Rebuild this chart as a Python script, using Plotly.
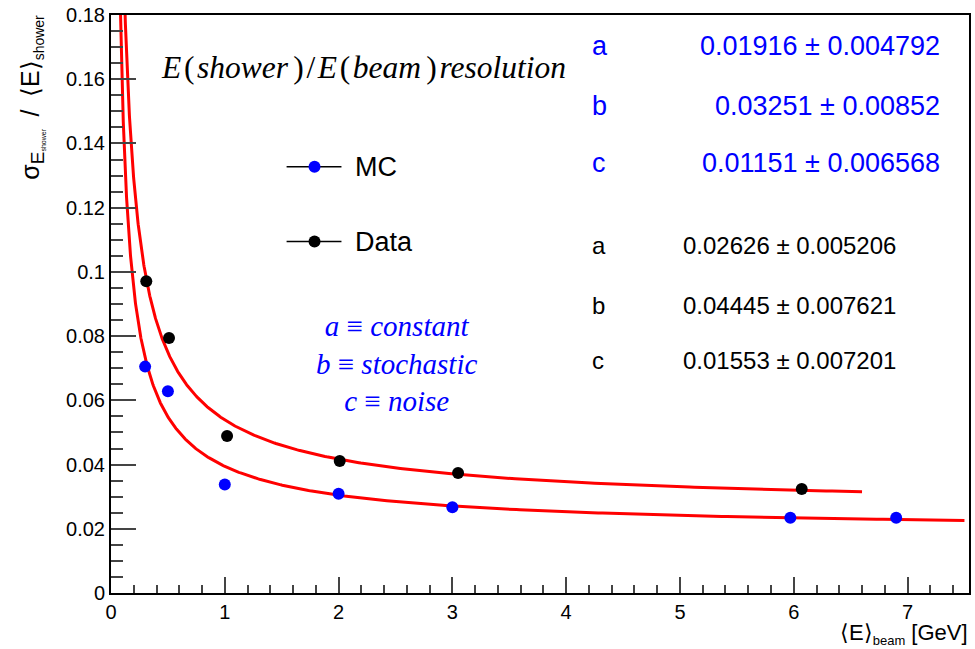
import numpy as np
import plotly.graph_objects as go

# ---- data ----
mc_energy = [0.3, 0.5, 1.0, 2.0, 3.0, 5.97, 6.9]
mc_resolution = [0.0705, 0.0628, 0.0338, 0.0309, 0.0267, 0.0234, 0.0234]
data_energy = [0.31, 0.51, 1.02, 2.01, 3.05, 6.07]
data_resolution = [0.0971, 0.0794, 0.0489, 0.0411, 0.0374, 0.0324]

# fit parameters (a = constant, b = stochastic, c = noise)
mc_fit = {"a": 0.01916, "b": 0.03251, "c": 0.01151}
mc_fit_err = {"a": 0.004792, "b": 0.00852, "c": 0.006568}
data_fit = {"a": 0.02626, "b": 0.04445, "c": 0.01553}
data_fit_err = {"a": 0.005206, "b": 0.007621, "c": 0.007201}
mc_fit_range = [0.05, 7.5]
data_fit_range = [0.05, 6.6]

series_names = ["MC", "Data"]
series_colors = ["#0000ff", "#000000"]

x_ticks = [0, 1, 2, 3, 4, 5, 6, 7]
y_ticks = [0, 0.02, 0.04, 0.06, 0.08, 0.1, 0.12, 0.14, 0.16, 0.18]


def resolution(E, p):
    return np.sqrt(p["a"] ** 2 + p["b"] ** 2 / E + p["c"] ** 2 / E ** 2)


FONT = "Liberation Sans, Arial, sans-serif"
SERIF = "Liberation Serif, Times New Roman, serif"

fig = go.Figure()

for rng, p in [(mc_fit_range, mc_fit), (data_fit_range, data_fit)]:
    E = np.geomspace(rng[0], rng[1], 600)
    fig.add_trace(go.Scatter(x=E, y=resolution(E, p), mode="lines",
                             line=dict(color="#ff0000", width=3),
                             showlegend=False, hoverinfo="skip"))

fig.add_trace(go.Scatter(x=mc_energy, y=mc_resolution, mode="markers",
                         name=series_names[0],
                         marker=dict(color=series_colors[0], size=12),
                         showlegend=False))
fig.add_trace(go.Scatter(x=data_energy, y=data_resolution, mode="markers",
                         name=series_names[1],
                         marker=dict(color=series_colors[1], size=12),
                         showlegend=False))

W, H = 975, 649
L, R, T, B = 111, 4, 14, 56
pw, ph = W - L - R, H - T - B


def px2paper(xp, yp):
    """convert page pixel position to paper coordinates"""
    return (xp - L) / pw, (H - B - yp) / ph


annotations = []
shapes = []

HS = "\u200a"
tx, ty = px2paper(159, 67)
annotations.append(dict(
    text=f"<i>E</i>{HS}({HS}<i>shower</i>{HS}{HS}){HS}/{HS}<i>E</i>{HS}({HS}<i>beam</i>{HS}{HS}){HS}<i>resolution</i>",
    x=tx, y=ty, xref="paper", yref="paper", xanchor="left", yanchor="middle",
    showarrow=False, font=dict(family=SERIF, size=31.5, color="#000000")))


def params(p, perr, color, size, ys, xlab, xval):
    out = []
    for key, yy in zip(["a", "b", "c"], ys):
        lx, ly = px2paper(xlab, yy)
        vx, _ = px2paper(xval, yy)
        out.append(dict(text=key, x=lx, y=ly, xref="paper", yref="paper",
                        xanchor="left", yanchor="middle", showarrow=False,
                        font=dict(color=color, size=size, family=FONT)))
        out.append(dict(text=f"{p[key]} \u00b1 {perr[key]}", x=vx, y=ly,
                        xref="paper", yref="paper", xanchor="right",
                        yanchor="middle", showarrow=False,
                        font=dict(color=color, size=size, family=FONT)))
    return out


annotations += params(mc_fit, mc_fit_err, "#0000ff", 27, [45, 105, 162], 591, 944)
annotations += params(data_fit, data_fit_err, "#000000", 24, [245, 305, 360], 591, 900)

dx, dy = px2paper(397, 363)
annotations.append(dict(
    text="<i>a</i> \u2261 <i>constant</i><br><i>b</i> \u2261 <i>stochastic</i><br><i>c</i> \u2261 <i>noise</i>",
    x=dx, y=dy, xref="paper", yref="paper", xanchor="center", yanchor="middle",
    showarrow=False, align="center",
    font=dict(family=SERIF, size=29, color="#0000ff")))

# legend (box-less ROOT style legend)
for name, color, ly in zip(series_names, series_colors, [166, 241]):
    x0, yl = px2paper(287, ly)
    x1, _ = px2paper(342, ly)
    xm, _ = px2paper(315, ly)
    shapes.append(dict(type="line", xref="paper", yref="paper", x0=x0, x1=x1,
                       y0=yl, y1=yl, line=dict(color="#000000", width=1.5)))
    shapes.append(dict(type="circle", xref="paper", yref="paper",
                       xsizemode="pixel", ysizemode="pixel", xanchor=xm, yanchor=yl,
                       x0=-6, x1=6, y0=-6, y1=6,
                       fillcolor=color, line=dict(color=color, width=0)))
    txx, _ = px2paper(354, ly)
    annotations.append(dict(text=name, x=txx, y=yl, xref="paper", yref="paper",
                            xanchor="left", yanchor="middle", showarrow=False,
                            font=dict(family=FONT, size=27, color="#000000")))

# axis titles
xx, xy = px2paper(972, 634)
annotations.append(dict(
    text="\u27e8E\u27e9<sub><span style='font-size:13px'>beam</span></sub> [GeV]",
    x=xx, y=xy, xref="paper", yref="paper",
    xanchor="right", yanchor="middle", showarrow=False,
    font=dict(family=FONT, size=22, color="#000000")))
yx, yy = px2paper(31, 12)
annotations.append(dict(
    text=("\u03c3<sub><span style='font-size:19px'>E</span>"
          "<span style='font-size:10px'><sub>shower</sub></span></sub>"
          "\u2002/\u2002\u27e8E\u27e9<sub><span style='font-size:14px'>shower</span></sub>"),
    x=yx, y=yy, xref="paper", yref="paper", textangle=-90,
    xanchor="center", yanchor="top", showarrow=False,
    font=dict(family=FONT, size=25, color="#000000")))

fig.update_layout(
    width=W, height=H,
    margin=dict(l=L, r=R, t=T, b=B),
    paper_bgcolor="white", plot_bgcolor="white",
    font=dict(family=FONT, color="#000000"),
    annotations=annotations,
    shapes=shapes,
    showlegend=False,
    xaxis=dict(range=[0, 7.54], tickvals=x_ticks, ticks="inside", ticklen=16,
               tickwidth=1.5, showline=True, linewidth=2, linecolor="black",
               mirror=True, showgrid=False, zeroline=False,
               tickfont=dict(size=20), ticklabeloverflow="allow",
               minor=dict(dtick=0.2, ticks="inside", ticklen=8, tickwidth=1.5,
                          showgrid=False)),
    yaxis=dict(range=[0, 0.18 + 1e-7], tickvals=y_ticks, ticks="inside", ticklen=25,
               tickwidth=1.5, showline=True, linewidth=2, linecolor="black",
               mirror=True, showgrid=False, zeroline=False,
               tickfont=dict(size=20), ticklabeloverflow="allow",
               minor=dict(dtick=0.005, ticks="inside", ticklen=12, tickwidth=1.5,
                          showgrid=False)),
)

fig.write_html("out.html",
               config={"displayModeBar": False},
               post_script="document.body.style.margin='0px';"
                           "document.body.style.overflow='hidden';")
